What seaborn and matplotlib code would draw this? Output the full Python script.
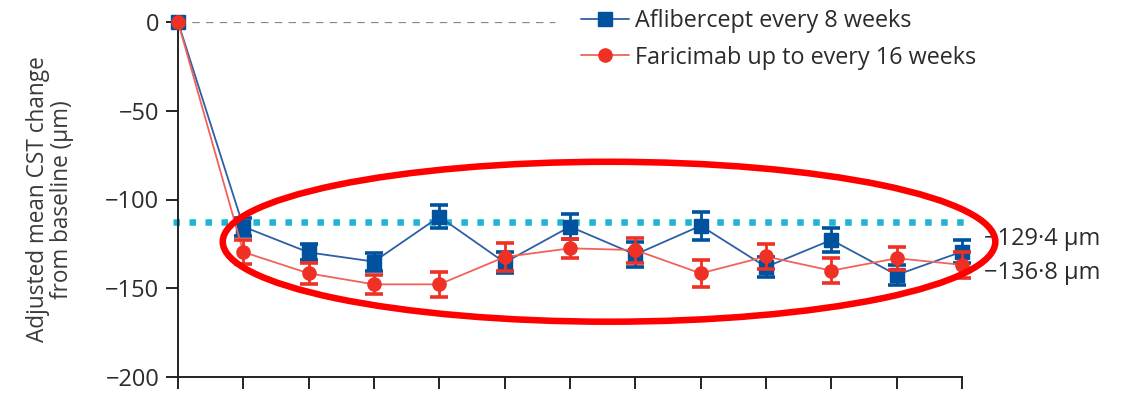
import numpy as np
import pandas as pd
import seaborn as sns
import matplotlib.pyplot as plt
from matplotlib.patches import Ellipse
from matplotlib.lines import Line2D

# Visit weeks and adjusted mean change in central subfield thickness (µm)
weeks = [0, 4, 8, 12, 16, 20, 24, 28, 32, 36, 40, 44, 48]
aflibercept_change = [0, -115.3, -129.8, -135.0, -109.7, -135.5, -115.3,
                      -131.0, -114.8, -138.0, -122.8, -142.5, -129.4]
aflibercept_se = [0, 5.0, 4.5, 5.0, 6.5, 6.0, 7.0, 6.8, 7.9, 5.4, 6.6, 5.4, 6.4]
faricimab_change = [0, -129.6, -141.6, -147.8, -147.8, -132.4, -127.5,
                    -128.5, -141.6, -132.1, -140.1, -133.1, -136.8]
faricimab_se = [0, 6.6, 6.0, 5.5, 6.9, 8.0, 5.2, 7.0, 7.7, 6.9, 7.2, 6.6, 7.5]

arm_labels = ["Aflibercept every 8 weeks", "Faricimab up to every 16 weeks"]
y_ticks = [0, -50, -100, -150, -200]
reference_level = -112.5

blue = "#00519E"
blue_line = "#2C5FA6"
red = "#EE3124"
red_line = "#F2625A"
cyan = "#1FB5D0"
text_col = "#2B2B2B"
fs = 17
fs_leg = 16.8

sns.set_theme(style="white")
plt.rcParams["font.family"] = ["Open Sans", "DejaVu Sans"]

df = pd.concat([
    pd.DataFrame({"week": weeks, "change": aflibercept_change, "se": aflibercept_se, "arm": arm_labels[0]}),
    pd.DataFrame({"week": weeks, "change": faricimab_change, "se": faricimab_se, "arm": arm_labels[1]}),
])

fig = plt.figure(figsize=(11.27, 3.93), dpi=100)
ax = fig.add_axes([178 / 1127, 16 / 393, 784 / 1127, 355 / 393])

# zero reference and highlighted threshold
ax.plot([0, 23.1], [0, 0], color="#7F8C8D", lw=0.9, ls=(0, (6, 5)), zorder=1)
ax.plot([-0.3, 48.2], [reference_level] * 2, color=cyan, lw=4.7,
        ls=(0, (1, 1.45)), dash_capstyle="butt", zorder=2, clip_on=False)

styles = {
    arm_labels[0]: dict(color=blue, line=blue_line, marker="s", ms=10.5, z=3),
    arm_labels[1]: dict(color=red, line=red_line, marker="o", ms=9.5, z=5),
}

for arm in arm_labels:
    st = styles[arm]
    sub = df[df["arm"] == arm]
    sns.lineplot(data=sub, x="week", y="change", ax=ax, color=st["line"], lw=1.3,
                 legend=False, zorder=st["z"], clip_on=False)
    err = sub[sub["se"] > 0]
    ax.errorbar(err["week"], err["change"], yerr=err["se"], fmt="none",
                ecolor=st["color"], elinewidth=2, capsize=6.5, capthick=2.6,
                zorder=st["z"] + 0.5, clip_on=False)
    ax.plot(sub["week"], sub["change"], ls="none", marker=st["marker"], ms=st["ms"],
            mfc=st["color"], mec=st["color"], zorder=st["z"] + 0.6, clip_on=False)

# final-visit values
final_offsets = [(16, 9.4), (16, -5.6)]
for vals, off in zip([aflibercept_change, faricimab_change], final_offsets):
    ax.annotate(f"\u2212{abs(vals[-1]):.1f}".replace(".", "\u00b7") + " \u00b5m",
                xy=(weeks[-1], vals[-1]), xytext=off, textcoords="offset points",
                ha="left", va="center", fontsize=fs, color=text_col,
                annotation_clip=False)

# highlight ellipse
ax.add_patch(Ellipse((26.39, -123.8), 47.3, 90.1, fill=False, ec="#FF0000",
                     lw=4.7, zorder=10, clip_on=False))

ax.set_xlim(0, 48)
ax.set_ylim(-200, 0)
ax.set_xticks(weeks)
ax.set_xticklabels([])
ax.set_yticks(y_ticks)
ax.set_yticklabels([f"\u2212{abs(t)}" if t else "0" for t in y_ticks])
ax.tick_params(axis="both", direction="out", length=8.5, width=1.4, color="#222222",
               labelsize=fs, labelcolor=text_col, pad=5, left=True, bottom=True)
for side in ["top", "right"]:
    ax.spines[side].set_visible(False)
for side in ["left", "bottom"]:
    ax.spines[side].set_color("#222222")
    ax.spines[side].set_linewidth(1.4)
ax.set_xlabel("")
ax.set_ylabel("Adjusted mean CST change\nfrom baseline (\u00b5m)", fontsize=16.3,
              color="#3a3a3a", linespacing=1.0)
ax.yaxis.set_label_coords(-0.133, 0.5)

handles = [
    Line2D([], [], color=blue_line, lw=1.3, marker="s", ms=10.5, mfc=blue, mec=blue),
    Line2D([], [], color=red_line, lw=1.3, marker="o", ms=9.5, mfc=red, mec=red),
]
leg = ax.legend(handles, arm_labels, loc="upper left", bbox_to_anchor=(572 / 1127, 1.001),
                bbox_transform=fig.transFigure, frameon=False, fontsize=fs_leg,
                handlelength=2.06, handletextpad=0.26, labelspacing=0.54, borderaxespad=0)
for t in leg.get_texts():
    t.set_color(text_col)

fig.savefig("out.png", dpi=100)
